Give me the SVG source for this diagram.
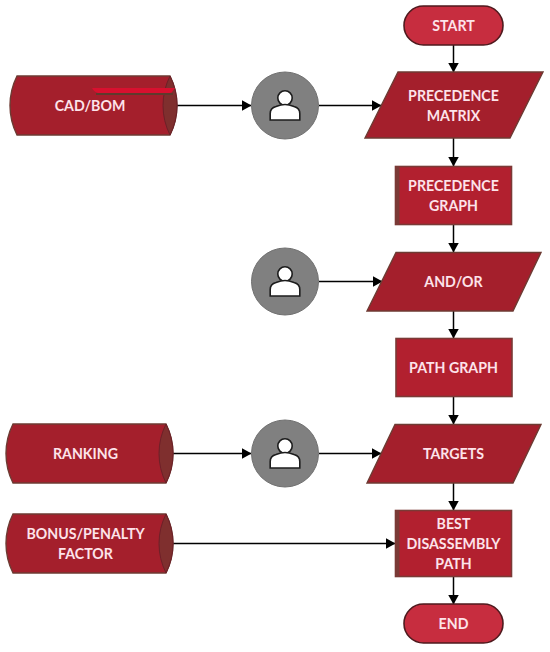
<svg xmlns="http://www.w3.org/2000/svg" width="550" height="652" viewBox="0 0 550 652">
<style>
text{font-family:"Lato","Open Sans","Liberation Sans",sans-serif;font-weight:700;font-size:14.200px;fill:#fde3ea;text-anchor:middle}
.term{fill:#c72d3f;stroke:#4f1a1e;stroke-width:1.6}
.data{fill:#a41f2c;stroke:#6d3b33;stroke-width:1.4}
.proc{fill:#b2202f;stroke:#7a3a36;stroke-width:1.6}
.cyl{fill:#a41f2c;stroke:#6d3b33;stroke-width:1.4}
.cap{fill:#7f2f2e;stroke:#6d2028;stroke-width:1}
.circ{fill:#808080;stroke:#707070;stroke-width:1}
.user{fill:#fff;stroke:#1c1c1c;stroke-width:1.6}
.con{fill:none;stroke:#000;stroke-width:1.5;marker-end:url(#arr)}
</style>
<defs>
<marker id="arr" markerUnits="userSpaceOnUse" markerWidth="10" markerHeight="12" refX="9.500" refY="6" orient="auto"><path d="M0,0.500 L10,6 L0,11.500 Z" fill="#000"/></marker>
<g id="person"><circle cx="0" cy="-7.500" r="7.200" class="user"/><path class="user" d="M-14.800,14.500 V8 Q-14.800,2.500 -9,1 Q-4,-1 0,-1 Q4,-1 9,1 Q14.800,2.500 14.800,8 V14.500 Z"/></g>
</defs>
<g id="connectors">
<path class="con" d="M453.500,45 V72"/>
<path class="con" d="M453.500,138 V166"/>
<path class="con" d="M453.500,224 V252"/>
<path class="con" d="M453.500,311 V338"/>
<path class="con" d="M453.500,397 V424"/>
<path class="con" d="M453.500,483 V510"/>
<path class="con" d="M453.500,577 V604"/>
<path class="con" d="M177,105.500 H251"/>
<path class="con" d="M319,105.500 H381"/>
<path class="con" d="M319,281.500 H382"/>
<path class="con" d="M173,453.500 H251"/>
<path class="con" d="M319,453.500 H381"/>
<path class="con" d="M173,543.500 H395"/>
</g>
<g id="start"><rect class="term" x="404" y="6" width="99" height="39" rx="19.500"/><text x="453.500" y="30.500">START</text></g>
<g id="precedence-matrix"><polygon class="data" points="398,72 543,72 510,138 365,138"/><text x="453.500" y="100.500">PRECEDENCE</text><text x="453.500" y="120.500">MATRIX</text></g>
<g id="precedence-graph"><rect class="proc" x="395.500" y="166.500" width="116" height="58"/><rect x="395.500" y="166.500" width="4" height="58" fill="#7a3a36"/><text x="453.500" y="191">PRECEDENCE</text><text x="453.500" y="211">GRAPH</text></g>
<g id="and-or"><polygon class="data" points="396,252.500 541,252.500 513,311 367,311"/><text x="453.500" y="287">AND/OR</text></g>
<g id="path-graph"><rect class="proc" x="396" y="338.500" width="116" height="58"/><text x="453.500" y="373">PATH GRAPH</text></g>
<g id="targets"><polygon class="data" points="395,424.500 541,424.500 513,483 367,483"/><text x="453.500" y="458.500">TARGETS</text></g>
<g id="best-path"><rect class="proc" x="395.500" y="510.500" width="116" height="66"/><rect x="395.500" y="510.500" width="4" height="66" fill="#7a3a36"/><text x="453.500" y="528.500">BEST</text><text x="453.500" y="548.500">DISASSEMBLY</text><text x="453.500" y="568.500">PATH</text></g>
<g id="end"><rect class="term" x="404" y="604" width="99" height="39" rx="19.500"/><text x="453.500" y="628.500">END</text></g>
<g id="cad-bom"><path class="cyl" d="M17,76 H170 Q177,90 177,105.500 Q177,121 170,135 H17 Q10,121 10,105.500 Q10,90 17,76 Z"/><path class="cap" d="M170,76 Q177,90 177,105.500 Q177,121 170,135 Q163,121 163,105.500 Q163,90 170,76 Z"/><path d="M92,88 H175 L172,92 Q172,93 168,93 H98 Q94,92 92,88 Z" fill="#d8102f"/><path d="M96,94 H173" stroke="#5f3a2c" stroke-width="2" fill="none"/><text x="90" y="110.500">CAD/BOM</text></g>
<g id="ranking"><path class="cyl" d="M13,424 H166 Q173,438 173,453.500 Q173,469 166,483 H13 Q6,469 6,453.500 Q6,438 13,424 Z"/><path class="cap" d="M166,424 Q173,438 173,453.500 Q173,469 166,483 Q159,469 159,453.500 Q159,438 166,424 Z"/><text x="85.500" y="458.500">RANKING</text></g>
<g id="bonus-penalty"><path class="cyl" d="M13,514 H166 Q173,528 173,543.500 Q173,559 166,573 H13 Q6,559 6,543.500 Q6,528 13,514 Z"/><path class="cap" d="M166,514 Q173,528 173,543.500 Q173,559 166,573 Q159,559 159,543.500 Q159,528 166,514 Z"/><text x="85.500" y="538.500">BONUS/PENALTY</text><text x="85.500" y="558.500">FACTOR</text></g>
<g id="person-1"><circle class="circ" cx="285" cy="105.500" r="33.500"/><use href="#person" x="285" y="105.500"/></g>
<g id="person-2"><circle class="circ" cx="285" cy="281.500" r="33.500"/><use href="#person" x="285" y="281.500"/></g>
<g id="person-3"><circle class="circ" cx="285" cy="453.500" r="33.500"/><use href="#person" x="285" y="453.500"/></g>
</svg>
